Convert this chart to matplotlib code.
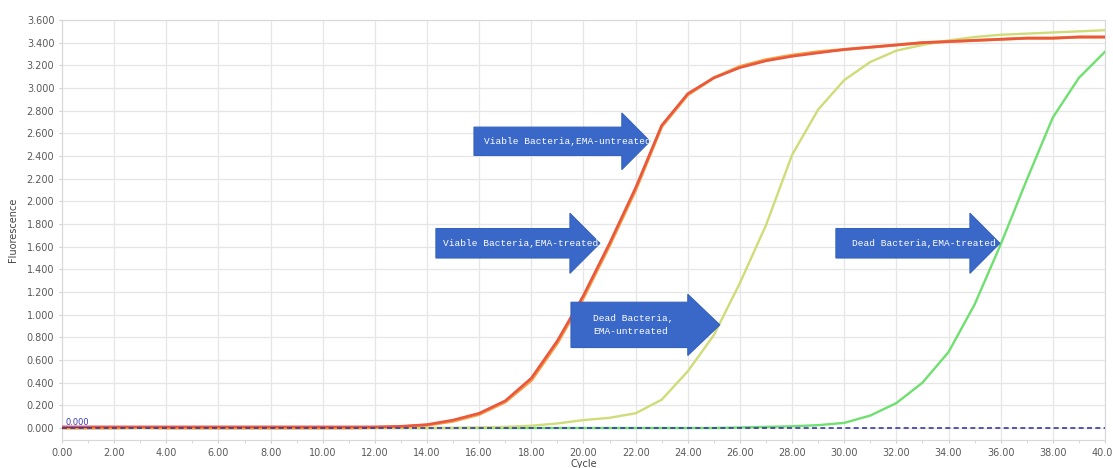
import numpy as np
import matplotlib.pyplot as plt
from matplotlib.patches import Polygon
from matplotlib.ticker import MultipleLocator, FormatStrFormatter

# amplification curves, fluorescence per cycle
cycles = list(range(0, 41))

viable_untreated = [0.01, 0.01, 0.01, 0.01, 0.01, 0.01, 0.01, 0.01, 0.01, 0.01,
                    0.01, 0.01, 0.01, 0.015, 0.03, 0.07, 0.13, 0.24, 0.44, 0.77,
                    1.17, 1.63, 2.12, 2.67, 2.95, 3.09, 3.18, 3.24, 3.28, 3.31,
                    3.34, 3.36, 3.38, 3.40, 3.41, 3.42, 3.43, 3.44, 3.44, 3.45, 3.45]
viable_treated = [0.0, 0.0, 0.0, 0.005, 0.0, 0.0, 0.0, 0.0, 0.0, 0.0,
                  0.0, 0.0, 0.005, 0.01, 0.025, 0.06, 0.12, 0.23, 0.42, 0.75,
                  1.15, 1.61, 2.10, 2.66, 2.94, 3.09, 3.19, 3.25, 3.29, 3.32,
                  3.34, 3.36, 3.38, 3.40, 3.41, 3.42, 3.43, 3.44, 3.44, 3.45, 3.45]
dead_untreated = [0.0, 0.0, 0.0, 0.0, 0.0, 0.0, 0.0, 0.0, 0.0, 0.0,
                  0.0, 0.0, 0.0, 0.0, 0.0, 0.0, 0.005, 0.01, 0.02, 0.04,
                  0.07, 0.09, 0.13, 0.25, 0.50, 0.82, 1.28, 1.79, 2.41, 2.81,
                  3.07, 3.23, 3.33, 3.38, 3.42, 3.45, 3.47, 3.48, 3.49, 3.50, 3.51]
dead_treated = [0.0, 0.0, 0.0, 0.0, 0.0, 0.0, 0.0, 0.0, 0.0, 0.0,
                0.0, 0.0, 0.0, 0.0, 0.0, 0.0, 0.0, 0.0, 0.0, 0.0,
                0.0, 0.0, 0.0, 0.0, 0.0, 0.0, 0.005, 0.01, 0.015, 0.025,
                0.045, 0.11, 0.22, 0.40, 0.67, 1.09, 1.62, 2.19, 2.74, 3.09, 3.32]
threshold = 0.0

# callout arrows: label, tail x, head base x, tip x, tip y, body half height, head half height
callouts = [
    ("Viable Bacteria,EMA-untreated", 15.8, 21.47, 22.55, 2.53, 0.125, 0.25),
    ("Viable Bacteria,EMA-treated", 14.34, 19.48, 20.63, 1.63, 0.13, 0.265),
    ("Dead Bacteria,\nEMA-untreated", 19.52, 24.0, 25.23, 0.91, 0.20, 0.27),
    ("Dead Bacteria,EMA-treated", 29.68, 34.82, 35.97, 1.63, 0.13, 0.265),
]
text_pad = [0.38, 0.27, 0.85, 0.62]

fig = plt.figure(figsize=(11.13, 4.68), dpi=100)
ax = fig.add_axes([0.0557, 0.0598, 0.9371, 0.8974])

ax.plot(cycles, dead_treated, color="#6fe070", lw=1.7, zorder=3)
ax.plot(cycles, dead_untreated, color="#cfdc78", lw=1.7, zorder=3)
ax.plot(cycles, viable_treated, color="#f4a048", lw=2.2, zorder=4)
ax.plot(cycles, viable_untreated, color="#e9573c", lw=1.9, zorder=4)
ax.axhline(threshold, color="#3838a8", lw=1.2, ls=(0, (3, 2)), zorder=5)
ax.text(0.15, threshold + 0.01, "0.000", color="#3838c0", fontsize=6,
        va="bottom", ha="left", zorder=6)
ax.plot([0.1, 1.0], [threshold + 0.008] * 2, color="#3838c0", lw=0.6, zorder=6)

for (label, x0, xb, xt, yt, bh, hh), pad in zip(callouts, text_pad):
    pts = [(x0, yt + bh), (xb, yt + bh), (xb, yt + hh), (xt, yt),
           (xb, yt - hh), (xb, yt - bh), (x0, yt - bh)]
    ax.add_patch(Polygon(pts, closed=True, facecolor="#3a68c8",
                         edgecolor="#3462c0", lw=0.8, zorder=7))
    ax.text(x0 + pad, yt, label, color="white", fontsize=6.8,
            family="Liberation Mono", ha="left", va="center",
            linespacing=1.5, zorder=8)

ax.set_xlim(0, 40)
ax.set_ylim(-0.106, 3.6)
ax.xaxis.set_major_locator(MultipleLocator(2))
ax.xaxis.set_minor_locator(MultipleLocator(1))
ax.yaxis.set_major_locator(MultipleLocator(0.2))
ax.xaxis.set_major_formatter(FormatStrFormatter("%.2f"))
ax.yaxis.set_major_formatter(FormatStrFormatter("%.3f"))
ax.grid(True, which="major", color="#e6e6e6", lw=0.9)
ax.tick_params(axis="both", which="both", length=2, color="#d0d0d0",
               labelsize=7, labelcolor="#5a5a5a")
for s in ax.spines.values():
    s.set_color("#d8d8d8")
ax.set_xlabel("Cycle", fontsize=7, color="#444444", labelpad=1)
ax.set_ylabel("Fluorescence", fontsize=7, color="#444444", labelpad=6)

fig.savefig("out.png", dpi=100)
